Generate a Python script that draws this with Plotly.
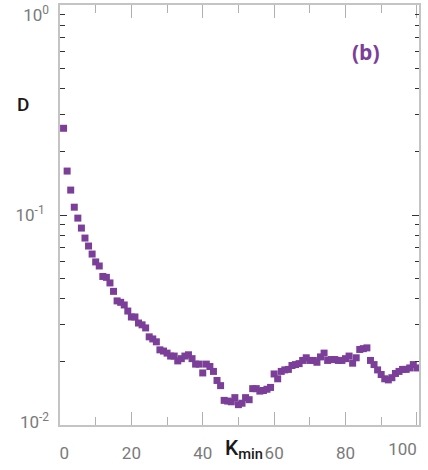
import plotly.graph_objects as go

k_min = list(range(1, 102))
d_values = [
    0.259, 0.162, 0.1315, 0.109, 0.0967, 0.0867, 0.0777, 0.0712, 0.0652, 0.0598,
    0.0572, 0.0510, 0.0505, 0.0475, 0.0433, 0.0390, 0.0384, 0.0373, 0.0349, 0.0327,
    0.0327, 0.0306, 0.0300, 0.0290, 0.0263, 0.0257, 0.0249, 0.0228, 0.0225, 0.0220,
    0.0213, 0.0213, 0.0202, 0.0207, 0.0213, 0.0216, 0.0207, 0.0195, 0.0195, 0.0177,
    0.0195, 0.0190, 0.0180, 0.0163, 0.0154, 0.0131, 0.0130, 0.0129, 0.0135, 0.0125,
    0.0127, 0.0135, 0.0132, 0.0149, 0.0149, 0.0145, 0.0146, 0.0148, 0.0151, 0.0175,
    0.0166, 0.0180, 0.0183, 0.0184, 0.0192, 0.0194, 0.0196, 0.0203, 0.0209, 0.0203,
    0.0203, 0.0199, 0.0211, 0.0220, 0.0203, 0.0205, 0.0205, 0.0203, 0.0203, 0.0207,
    0.0213, 0.0197, 0.0209, 0.0229, 0.0231, 0.0233, 0.0203, 0.0194, 0.0183, 0.0174,
    0.0166, 0.0164, 0.0168, 0.0176, 0.0180, 0.0184, 0.0184, 0.0187, 0.0194, 0.0187,
    0.0207,
]

NB = "\u00a0"
x_tickvals = [0, 20, 40, 60, 80, 100]
x_ticktext = [NB * 2 + "0", "20", "40", "60", "80", "100"]
y_tickvals = [0.01, 0.1, 1]
y_ticktext = ["10<sup>-2</sup>", "10<sup>-1</sup>", "10<sup>0</sup>"]
y_minorvals = [m * 10 ** e for e in (-2, -1) for m in range(2, 10)]

x_range = [0, 100.6]
y_range = [-2, 0.0005]
purple = "#7B3E99"
label_color = "#7a7a7a"

fig = go.Figure()
fig.add_trace(go.Scatter(
    x=k_min, y=d_values, mode="markers",
    marker=dict(symbol="square", size=7, color=purple, line=dict(width=0)),
    cliponaxis=False, showlegend=False,
))
# invisible companions so the overlay label axes get drawn
for xa, ya in (("x2", "y"), ("x", "y2"), ("x", "y3")):
    fig.add_trace(go.Scatter(
        x=k_min, y=d_values, xaxis=xa, yaxis=ya, mode="markers",
        marker=dict(size=1, opacity=0), hoverinfo="skip", showlegend=False,
    ))

axis_line = "#c4c4c4"
label_font = dict(family="Roboto", color=label_color, size=17)
fig.update_layout(
    width=428, height=470,
    margin=dict(l=60, r=9, t=5, b=44.5, autoexpand=False),
    paper_bgcolor="white", plot_bgcolor="white",
    font=label_font,
    xaxis=dict(
        range=x_range, autorange=False, showgrid=False, zeroline=False,
        automargin=False,
        showline=True, linecolor=axis_line, linewidth=2, mirror="ticks",
        ticks="inside", ticklen=13, tickwidth=1, tickcolor="#b0b0b0",
        tickmode="array", tickvals=x_tickvals,
        ticktext=x_ticktext[:-1] + [""],
        ticklabelstandoff=12, ticklabeloverflow="allow",
        minor=dict(ticks="inside", ticklen=8, tickwidth=1, tickcolor="#b0b0b0",
                   dtick=10, showgrid=False),
    ),
    xaxis2=dict(
        overlaying="x", anchor="y", side="bottom", range=x_range,
        autorange=False,
        showgrid=False, zeroline=False, showline=False, automargin=False,
        ticks="", tickmode="array", tickvals=x_tickvals[-1:],
        ticktext=x_ticktext[-1:], ticklabelposition="outside left",
        ticklabelstandoff=12, ticklabeloverflow="allow", tickfont=label_font,
    ),
    yaxis=dict(
        type="log", range=y_range, autorange=False, showgrid=False,
        zeroline=False, automargin=False,
        showline=True, linecolor=axis_line, linewidth=2, mirror="ticks",
        ticks="inside", ticklen=7, tickwidth=1, tickcolor="#333333",
        tickmode="array", tickvals=y_tickvals,
        ticktext=["", y_ticktext[1], ""],
        ticklabelstandoff=10, ticklabeloverflow="allow",
        minor=dict(ticks="inside", ticklen=4.5, tickwidth=1, tickcolor="#333333",
                   tickvals=y_minorvals, showgrid=False),
    ),
    yaxis2=dict(
        type="log", overlaying="y", anchor="x", side="left", range=y_range,
        autorange=False,
        showgrid=False, zeroline=False, showline=False, automargin=False,
        ticks="", tickmode="array", tickvals=y_tickvals[:1],
        ticktext=y_ticktext[:1], ticklabelposition="outside top",
        ticklabelshift=9,
        ticklabelstandoff=10, ticklabeloverflow="allow", tickfont=label_font,
    ),
    yaxis3=dict(
        type="log", overlaying="y", anchor="x", side="left", range=y_range,
        autorange=False,
        showgrid=False, zeroline=False, showline=False, automargin=False,
        ticks="", tickmode="array", tickvals=y_tickvals[2:],
        ticktext=y_ticktext[2:], ticklabelposition="outside bottom",
        ticklabelshift=-2,
        ticklabelstandoff=10, ticklabeloverflow="allow", tickfont=label_font,
    ),
    annotations=[
        dict(text="D", xref="paper", yref="paper", x=(22.7 - 60) / 359,
             y=1 - (105 - 5) / 420.5, showarrow=False,
             font=dict(family="Roboto", size=19, color="#1a1a1a", weight=500),
             xanchor="center", yanchor="middle"),
        dict(text="K<sub>min</sub>", xref="paper", yref="paper",
             x=(243.5 - 60) / 359, y=-(450 - 425.5) / 420.5, showarrow=False,
             font=dict(family="Roboto", size=21, color="#1a1a1a", weight=500),
             xanchor="center", yanchor="middle"),
        dict(text="<b>(b)</b>", xref="paper", yref="paper",
             x=(365.5 - 60) / 359, y=1 - (52 - 5) / 420.5, showarrow=False,
             font=dict(family="Open Sans", size=21, color=purple),
             xanchor="center", yanchor="middle"),
    ],
)

fig.write_html("out.html", config={"displayModeBar": False},
               post_script="document.body.style.margin='0';")
